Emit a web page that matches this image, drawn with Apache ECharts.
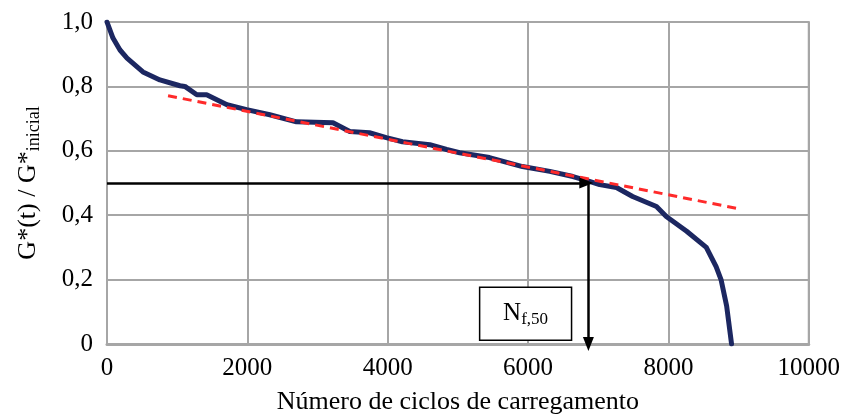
<!DOCTYPE html>
<html>
<head>
<meta charset="utf-8">
<script src="https://cdn.jsdelivr.net/npm/echarts@6/dist/echarts.min.js"></script>
<style>
  html, body { margin: 0; padding: 0; background: #fff; }
  #chart { width: 843px; height: 420px; }
</style>
</head>
<body>
<div id="chart"></div>
<script>
// Measured stiffness ratio vs. load cycles
const cycles = [0, 85, 185, 285, 512, 754, 1040, 1110, 1280, 1420, 1710, 1990, 2320, 2700, 3220, 3460, 3740, 3980, 4210, 4600, 4840, 5025, 5450, 5920, 6310, 6640, 6875, 7020, 7260, 7490, 7830, 7970, 8260, 8540, 8680, 8750, 8830, 8900];
const ratio = [1.0, 0.95, 0.913, 0.888, 0.845, 0.82, 0.802, 0.80, 0.774, 0.774, 0.743, 0.728, 0.712, 0.69, 0.687, 0.66, 0.656, 0.641, 0.628, 0.619, 0.604, 0.594, 0.579, 0.551, 0.536, 0.52, 0.505, 0.495, 0.486, 0.458, 0.427, 0.396, 0.35, 0.30, 0.24, 0.20, 0.118, 0];

// Linear trend of the stable phase
const trendX = [870, 8980];
const trendY = [0.771, 0.421];

// 50 % stiffness criterion and resulting fatigue life
const halfRatio = 0.5;
const nf50 = 6860;
const horizArrowEnd = 6830;

// Annotation box (data coordinates)
const boxX = [5310, 6620];
const boxY = [0.012, 0.176];

// Axis ticks
const xTicks = [0, 2000, 4000, 6000, 8000, 10000];
const yTicks = [0, 0.2, 0.4, 0.6, 0.8, 1.0];

const serif = '"Liberation Serif", "DejaVu Serif", serif';
const gridGray = '#a6a6a6';

const chart = echarts.init(document.getElementById('chart'));
chart.setOption({
  animation: false,
  backgroundColor: '#fff',
  grid: {
    left: 107, right: 34, top: 22, bottom: 75,
    show: true, borderColor: gridGray, borderWidth: 2
  },
  xAxis: {
    type: 'value',
    min: xTicks[0], max: xTicks[xTicks.length - 1], interval: 2000,
    name: 'Número de ciclos de carregamento',
    nameLocation: 'middle', nameGap: 45,
    nameTextStyle: { fontFamily: serif, fontSize: 26, color: '#000' },
    axisLine: { show: true, lineStyle: { color: gridGray, width: 3 } },
    axisTick: { show: false },
    axisLabel: {
      fontFamily: serif, fontSize: 25, color: '#000', margin: 12,
      formatter: v => String(v)
    },
    splitLine: { show: true, lineStyle: { color: gridGray, width: 2 } }
  },
  yAxis: {
    type: 'value',
    min: yTicks[0], max: yTicks[yTicks.length - 1], interval: 0.2,
    name: '{a|G*(t) / G*}{b|inicial}',
    nameLocation: 'middle', nameGap: 64, nameRotate: 90,
    nameTextStyle: {
      fontFamily: serif, fontSize: 26, color: '#000',
      rich: {
        a: { fontFamily: serif, fontSize: 26, color: '#000', lineHeight: 30 },
        b: { fontFamily: serif, fontSize: 18, color: '#000', verticalAlign: 'bottom', padding: [12, 0, 0, 0] }
      }
    },
    axisLine: { show: true, lineStyle: { color: gridGray, width: 2 } },
    axisTick: { show: false },
    axisLabel: {
      fontFamily: serif, fontSize: 25, color: '#000', margin: 14,
      formatter: v => (v === 0 ? '0' : v.toFixed(1).replace('.', ','))
    },
    splitLine: { show: true, lineStyle: { color: gridGray, width: 2 } }
  },
  series: [
    {
      type: 'line',
      data: cycles.map((c, i) => [c, ratio[i]]),
      symbol: 'none',
      z: 3,
      lineStyle: { color: '#1c2761', width: 5, join: 'round', cap: 'round' }
    },
    {
      type: 'line',
      data: trendX.map((c, i) => [c, trendY[i]]),
      symbol: 'none',
      z: 4,
      lineStyle: { color: '#ff2a2a', width: 3, type: [9, 6] }
    },
    {
      type: 'line',
      data: [],
      z: 5,
      markLine: {
        silent: true,
        symbol: ['none', 'triangle'],
        symbolSize: [11, 14],
        label: { show: false },
        lineStyle: { color: '#000', width: 2.5, type: 'solid' },
        data: [
          [{ coord: [0, halfRatio] }, { coord: [horizArrowEnd, halfRatio] }],
          [{ coord: [nf50, halfRatio] }, { coord: [nf50, 0] }]
        ]
      },
      markArea: {
        silent: true,
        itemStyle: { color: '#fff', borderColor: '#000', borderWidth: 1.5 },
        label: {
          show: true, position: 'inside',
          formatter: '{n|N}{s|f,50}',
          rich: {
            n: { fontFamily: serif, fontSize: 25, color: '#000', lineHeight: 28 },
            s: { fontFamily: serif, fontSize: 17, color: '#000', verticalAlign: 'bottom', padding: [10, 0, 0, 0] }
          }
        },
        data: [[{ coord: [boxX[0], boxY[0]] }, { coord: [boxX[1], boxY[1]] }]]
      }
    }
  ]
});
</script>
</body>
</html>
